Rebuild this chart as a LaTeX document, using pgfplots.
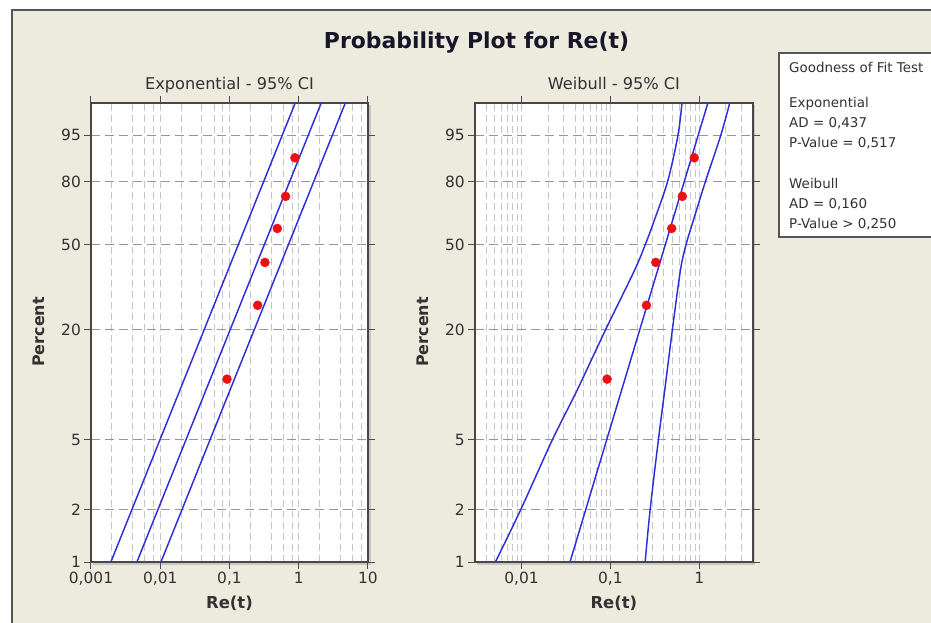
\documentclass[border=0pt]{standalone}
\usepackage{fontspec}
\setmainfont{DejaVu Sans}
\usepackage{pgfplots}
\pgfplotsset{compat=1.18}
\usepackage{pgfplotstable}

\definecolor{bg}{RGB}{237,234,222}
\definecolor{framecol}{RGB}{85,85,85}
\definecolor{fitblue}{RGB}{45,45,220}
\definecolor{dotred}{RGB}{238,16,16}
\definecolor{txt}{RGB}{50,50,50}
\definecolor{titlecol}{RGB}{22,22,40}
\definecolor{gridv}{RGB}{198,198,198}
\definecolor{gridh}{RGB}{150,150,150}

% observed points (Re(t), percent)
\pgfplotstableread{
x p
0.092 10.9
0.255 26.6
0.325 42.2
0.490 57.8
0.645 73.4
0.880 89.1
}\retdata

% Exponential fit and 95% CI
\pgfplotstableread{
x p
0.00194 1
0.889 99
}\expLow
\pgfplotstableread{
x p
0.00461 1
2.11 99
}\expMid
\pgfplotstableread{
x p
0.01026 1
4.70 99
}\expUp

% Weibull fit and 95% CI
\pgfplotstableread{
x p
0.0352 1
1.252 99
}\weiMid
\pgfplotstableread{
x p
0.00510 1
0.00982 2
0.02224 5
0.04238 9.5
0.0879 19.9
0.1881 39.1
0.2465 50
0.2992 59.5
0.4404 80
0.5772 95
0.6399 99
}\weiLow
\pgfplotstableread{
x p
0.2465 1
0.2805 2
0.3474 5
0.4098 9.5
0.4983 19.9
0.6158 39.1
0.7097 50
0.8285 59.5
1.173 80
1.750 95
2.207 99
}\weiUp

\tikzset{
  myfit/.style={fitblue, line width=1.45bp},
  mydots/.style={fill=dotred, draw=dotred},
}

\begin{document}
\begin{tikzpicture}
\path[use as bounding box, clip] (0,0) rectangle (931bp,-623bp);
\fill[white] (0,0) rectangle (931bp,-623bp);
\fill[bg] (12bp,-10bp) rectangle (940bp,-630bp);
\draw[framecol, line width=2bp] (12bp,-640bp) -- (12bp,-10bp) -- (940bp,-10bp);

% main title
\node[anchor=base, font=\fontsize{22}{26}\selectfont\bfseries, text=titlecol]
  at (476.5bp,-48.3bp) {Probability Plot for Re(t)};

% panel titles
\node[anchor=base, font=\fontsize{16.2}{19}\selectfont, text=txt]
  at (229.5bp,-89bp) {Exponential - 95\% CI};
\node[anchor=base, font=\fontsize{16.2}{19}\selectfont, text=txt]
  at (613.9bp,-89bp) {Weibull - 95\% CI};

% axis labels
\node[rotate=90, font=\fontsize{16}{19}\selectfont\bfseries, text=txt]
  at (38.5bp,-332bp) {Percent};
\node[rotate=90, font=\fontsize{16}{19}\selectfont\bfseries, text=txt]
  at (423bp,-332bp) {Percent};
\node[anchor=base, font=\fontsize{16.5}{19}\selectfont\bfseries, text=txt]
  at (229.5bp,-608bp) {Re(t)};
\node[anchor=base, font=\fontsize{16.5}{19}\selectfont\bfseries, text=txt]
  at (613.9bp,-608bp) {Re(t)};

% shadows of the plot areas
\fill[black!22] (93bp,-105bp) rectangle (370.5bp,-564.5bp);
\fill[black!22] (477bp,-105bp) rectangle (755bp,-564.5bp);

% legend box
\draw[framecol, line width=1.5bp, fill=white] (779bp,-53bp) rectangle (945bp,-237bp);
\begin{scope}[every node/.style={anchor=base west, inner sep=0pt,
    font=\fontsize{13.5}{16}\selectfont, text=txt}]
\node at (789bp,-72.3bp) {Goodness of Fit Test};
\node at (789bp,-107.7bp) {Exponential};
\node at (789bp,-127.7bp) {AD = 0,437};
\node at (789bp,-147.7bp) {P-Value = 0,517};
\node at (789bp,-188.3bp) {Weibull};
\node at (789bp,-208.3bp) {AD = 0,160};
\node at (789bp,-228.3bp) {P-Value > 0,250};
\end{scope}

% Exponential panel
\begin{axis}[
  at={(91bp,-562bp)}, anchor=south west, width=277bp,
  scale only axis, height=459bp,
  xmode=log, log basis x=10,
  ymin=-4.60015, ymax=1.52718,
  ytick={-4.60015,-3.90194,-2.97020,-1.49994,-0.366513,0.475885,1.097189},
  yticklabels={1,2,5,20,50,80,95},
  tick align=outside, major tick length=7bp, minor tick length=0pt,
  tick style={color=black!70, line width=1bp},
  xmajorgrids, ymajorgrids, xminorgrids,
  major x grid style={gridv, dash pattern=on 7bp off 4bp, line width=0.9bp},
  minor x grid style={gridv, dash pattern=on 7bp off 4bp, line width=0.9bp},
  major y grid style={gridh, dash pattern=on 9bp off 5bp, line width=0.9bp},
  axis line style={black!72, line width=1.6bp},
  axis background/.style={fill=white},
  ticklabel style={font=\fontsize{15.5}{18}\selectfont, text=txt},
  yticklabel style={inner xsep=3bp},
  xmin=0.001, xmax=10,
  xtick={0.001,0.01,0.1,1,10},
  xticklabels={{0,001},{0,01},{0,1},1,10},
  minor xtick={0.002,0.004,0.006,0.008,0.02,0.04,0.06,0.08,0.2,0.4,0.6,0.8,2,4,6,8}]
\addplot[myfit, no markers] table[x=x, y expr={ln(-ln(1-\thisrow{p}/100))}] {\expLow};
\addplot[myfit, no markers] table[x=x, y expr={ln(-ln(1-\thisrow{p}/100))}] {\expMid};
\addplot[myfit, no markers] table[x=x, y expr={ln(-ln(1-\thisrow{p}/100))}] {\expUp};
\addplot[only marks, mark=*, mark size=4.5bp, mark options={mydots}]
  table[x=x, y expr={ln(-ln(1-\thisrow{p}/100))}] {\retdata};
\end{axis}

% Weibull panel
\begin{axis}[
  at={(475bp,-562bp)}, anchor=south west, width=277.7bp,
  scale only axis, height=459bp,
  xmode=log, log basis x=10,
  ymin=-4.60015, ymax=1.52718,
  ytick={-4.60015,-3.90194,-2.97020,-1.49994,-0.366513,0.475885,1.097189},
  yticklabels={1,2,5,20,50,80,95},
  tick align=outside, major tick length=7bp, minor tick length=0pt,
  tick style={color=black!70, line width=1bp},
  xmajorgrids, ymajorgrids, xminorgrids,
  major x grid style={gridv, dash pattern=on 7bp off 4bp, line width=0.9bp},
  minor x grid style={gridv, dash pattern=on 7bp off 4bp, line width=0.9bp},
  major y grid style={gridh, dash pattern=on 9bp off 5bp, line width=0.9bp},
  axis line style={black!72, line width=1.6bp},
  axis background/.style={fill=white},
  ticklabel style={font=\fontsize{15.5}{18}\selectfont, text=txt},
  yticklabel style={inner xsep=3bp},
  xmin=0.003, xmax=4,
  xtick={0.01,0.1,1},
  xticklabels={{0,01},{0,1},1},
  minor xtick={0.003,0.004,0.005,0.006,0.007,0.008,0.009,0.02,0.03,0.04,0.05,0.06,0.07,0.08,0.09,0.2,0.3,0.4,0.5,0.6,0.7,0.8,0.9,2,3,4}]
\addplot[myfit, no markers, smooth, tension=0.5] table[x=x, y expr={ln(-ln(1-\thisrow{p}/100))}] {\weiLow};
\addplot[myfit, no markers] table[x=x, y expr={ln(-ln(1-\thisrow{p}/100))}] {\weiMid};
\addplot[myfit, no markers, smooth, tension=0.5] table[x=x, y expr={ln(-ln(1-\thisrow{p}/100))}] {\weiUp};
\addplot[only marks, mark=*, mark size=4.5bp, mark options={mydots}]
  table[x=x, y expr={ln(-ln(1-\thisrow{p}/100))}] {\retdata};
\end{axis}
\end{tikzpicture}
\end{document}
